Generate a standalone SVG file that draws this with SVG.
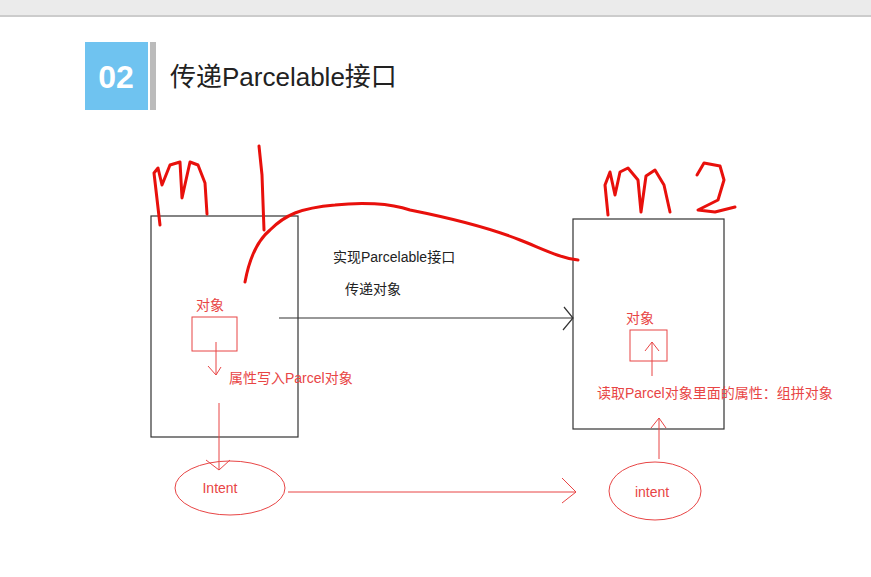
<svg xmlns="http://www.w3.org/2000/svg" width="871" height="577" viewBox="0 0 871 577">
<style>
.k{fill:none;stroke:#333;stroke-width:1.2}
.r{fill:none;stroke:#e84545;stroke-width:1}
.h{fill:none;stroke:#e8100c;stroke-width:3;stroke-linecap:round;stroke-linejoin:round}
.t{font-family:"Liberation Sans","Noto Sans CJK SC",sans-serif;font-size:14px}
.rt{fill:#e84545}
</style>
<rect width="871" height="577" fill="#fff"/>
<rect width="871" height="15" fill="#ebebeb"/>
<line x1="0" y1="16" x2="871" y2="16" stroke="#ccc" stroke-width="2"/>
<g id="header">
<rect x="85" y="42" width="63" height="68" fill="#6fc3f0"/>
<text x="116" y="88" text-anchor="middle" font-family="Liberation Sans,sans-serif" font-weight="bold" font-size="32" fill="#fff">02</text>
<rect x="150" y="42" width="6" height="68" fill="#bbb"/>
<text x="170" y="86" font-family="Liberation Sans,'Noto Sans CJK SC',sans-serif" font-size="26" fill="#222">传递Parcelable接口</text>
</g>
<g id="m1-box"><rect class="k" x="151" y="216" width="147" height="221"/></g>
<g id="m2-box"><rect class="k" x="573" y="219" width="151" height="210"/></g>
<g id="obj1"><rect class="r" x="192" y="317" width="45" height="34"/><text class="t rt" x="196" y="310">对象</text></g>
<g id="obj2"><rect class="r" x="630" y="330" width="37" height="31"/><text class="t rt" x="626" y="323">对象</text></g>
<g id="intent1"><ellipse class="r" cx="230" cy="488" rx="55" ry="27"/><text class="t rt" x="220" y="493" text-anchor="middle">Intent</text></g>
<g id="intent2"><ellipse class="r" cx="655" cy="491" rx="46" ry="29"/><text class="t rt" x="652" y="497" text-anchor="middle">intent</text></g>
<g id="labels">
<text class="t" x="333" y="262" fill="#222">实现Parcelable接口</text>
<text class="t" x="345" y="294" fill="#222">传递对象</text>
<text class="t rt" x="229" y="383">属性写入Parcel对象</text>
<text class="t rt" x="597" y="398">读取Parcel对象里面的属性：组拼对象</text>
</g>
<g id="connectors">
<path class="k" stroke-width="1" d="M279 318H573M564 307L573 318L563 330"/>
<path class="r" d="M216 342V375M208 366L216 375L221 367"/>
<path class="r" d="M219 403V470M206 460L219 470L230 460"/>
<path class="r" d="M288 492H576M562 478L576 492L562 503"/>
<path class="r" d="M659 459V418M651 428L659 418L666 428"/>
<path class="r" d="M652 376V342M645 351L652 342L659 351"/>
</g>
<g id="handwriting">
<path class="h" d="M160 225L154 173L158 168L162 185L170 165L180 162L182 198L190 162L198 165L205 183L207 214"/>
<path class="h" d="M259 146L262 175L264 230"/>
<path class="h" d="M245 282C250 255 258 240 270 230C285 215 300 208 335 205C360 202 390 203 410 210C450 218 490 228 520 240C545 250 560 258 578 260"/>
<path class="h" d="M608 215L605 185L610 172L615 195L620 172L628 168L638 180L641 212L646 176L655 170L664 185L670 212"/>
<path class="h" d="M697 175L704 163L720 166L724 180L718 200L698 210L715 212L735 207"/>
</g>
</svg>
